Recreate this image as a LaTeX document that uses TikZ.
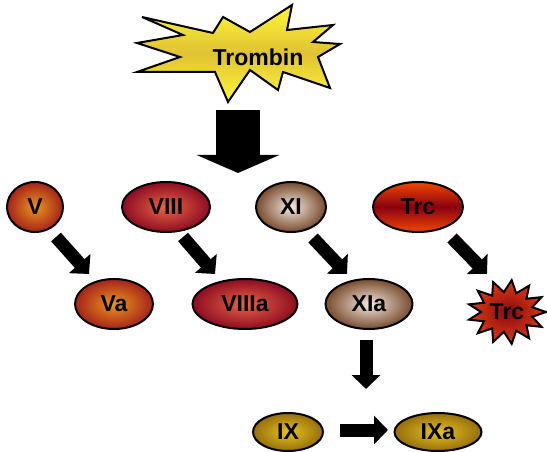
\documentclass[tikz,border=0pt]{standalone}
\usepackage{fontspec}
\setmainfont{Liberation Sans}
\usetikzlibrary{arrows.meta,positioning,shapes.geometric,calc}
\definecolor{vin}{RGB}{235,150,30}
\definecolor{vout}{RGB}{165,35,25}
\definecolor{eightin}{RGB}{236,100,72}
\definecolor{eightout}{RGB}{140,12,32}
\definecolor{elevin}{RGB}{245,232,224}
\definecolor{elevout}{RGB}{120,75,45}
\definecolor{trcedge}{RGB}{240,72,0}
\definecolor{trcmid}{RGB}{138,0,16}
\definecolor{ninein}{RGB}{230,195,35}
\definecolor{nineout}{RGB}{150,110,10}
\definecolor{burstlight}{RGB}{255,247,58}
\definecolor{burstdark}{RGB}{224,194,50}
\definecolor{starin}{RGB}{140,8,18}
\definecolor{starout}{RGB}{220,60,16}

\tikzset{
  factor/.style={ellipse,draw=black,line width=2pt,inner sep=0pt,
    minimum height=50pt,shading=radial,font=\fontsize{23}{23}\selectfont\bfseries},
  fv/.style={factor,inner color=vin,outer color=vout},
  fviii/.style={factor,inner color=eightin,outer color=eightout},
  fxi/.style={factor,inner color=elevin,outer color=elevout},
  fix/.style={factor,minimum height=38pt,inner color=ninein,outer color=nineout},
  ftrc/.style={factor,shading=axis,top color=trcedge,bottom color=trcedge,middle color=trcmid},
  label/.style={font=\fontsize{23}{23}\selectfont\bfseries},
  push/.style={line width=13pt,-{Triangle[length=14pt,width=28pt]}},
  bigpush/.style={line width=44pt,-{Triangle[length=18pt,width=82pt]}},
}

\begin{document}
\begin{tikzpicture}[x=1pt,y=-1pt]
  \useasboundingbox (0,0) rectangle (547,452);

  % thrombin burst
  \draw[line width=2pt,shading=axis,top color=burstlight,bottom color=burstlight,middle color=burstdark]
    (142,17) -- (213,33) -- (223,17) -- (250,32) -- (292,5) -- (287,30) -- (333,25)
    -- (313,42) -- (340,44) -- (318,57) -- (330,88) -- (283,72) -- (278,90)
    -- (250,70) -- (228,102) -- (215,72) -- (137,72) -- (180,57) -- (137,43)
    -- (183,35) -- cycle;
  \node[label] (trombin) at (258,57) {Trombin};

  % first row
  \node[fv,minimum width=56pt] (V) at (35,207) {V};
  \node[fviii,minimum width=88pt] (VIII) at (166,207) {VIII};
  \node[fxi,minimum width=70pt] (XI) at (291,207) {XI};
  \node[ftrc,minimum width=90pt] (Trc) at (418,207) {Trc};

  % second row
  \node[fv,minimum width=78pt] (Va) at (114,304) {Va};
  \node[fviii,minimum width=105pt] (VIIIa) at (245,304) {VIIIa};
  \node[fxi,minimum width=87pt] (XIa) at (369,304) {XIa};
  \shade[draw,line width=2pt,inner color=starin,outer color=starout]
    (546,312) \foreach \k in {1,...,25}{
      -- ($(507,312)+({(mod(\k,2)==0 ? 39 : 26)*cos(\k*360/26)},{(mod(\k,2)==0 ? 32 : 20)*sin(\k*360/26)})$)
    } -- cycle;
  \node[label] (TrcA) at (507,312) {Trc};

  % third row
  \node[fix,minimum width=70pt] (IX) at (288,432) {IX};
  \node[fix,minimum width=87pt] (IXa) at (438,432) {IXa};

  % arrows
  \draw[bigpush] ([shift={(-20,53)}]trombin.center) -- ([shift={(-20,116)}]trombin.center);
  \draw[push] ([shift={(21,30)}]V.center) -- ([shift={(-25,-30)}]Va.center);
  \draw[push] ([shift={(17,30)}]VIII.center) -- ([shift={(-30,-30)}]VIIIa.center);
  \draw[push] ([shift={(22,31)}]XI.center) -- ([shift={(-22,-30)}]XIa.center);
  \draw[push] ([shift={(34,31)}]Trc.center) -- ([shift={(-20,-38)}]TrcA.center);
  \draw[push] ([shift={(-3,36)}]XIa.center) -- ([shift={(-3,85)}]XIa.center);
  \draw[push] ([shift={(52,-2)}]IX.center) -- ([shift={(-50,-2)}]IXa.center);
\end{tikzpicture}
\end{document}
